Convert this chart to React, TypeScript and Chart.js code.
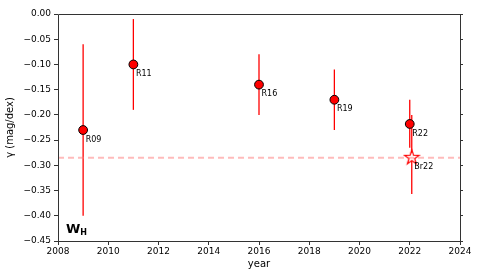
import React, { useEffect, useRef } from "react";
import { Chart, registerables } from "chart.js";
Chart.register(...registerables);

const years = [2009, 2011, 2016, 2019, 2022];
const gamma = [-0.23, -0.1, -0.14, -0.17, -0.218];
const errLow = [-0.4, -0.19, -0.2, -0.23, -0.265];
const errHigh = [-0.06, -0.01, -0.08, -0.11, -0.17];
const names = ["R09", "R11", "R16", "R19", "R22"];

const brYear = [2022.08];
const brGamma = [-0.283];
const brLow = [-0.357];
const brHigh = [-0.2];
const brNames = ["Br22"];

const meanGamma = -0.285;
const xRange = [2008, 2024];
const yRange = [-0.45, 0.0];

const FONT = "'DejaVu Sans', sans-serif";

function makeStar(): HTMLCanvasElement {
  const c = document.createElement("canvas");
  const s = 18;
  c.width = s;
  c.height = s;
  const ctx = c.getContext("2d")!;
  const cx = s / 2, cy = s / 2 + 0.8, R = 7.6, r = 3.0;
  ctx.beginPath();
  for (let i = 0; i < 10; i++) {
    const a = -Math.PI / 2 + (i * Math.PI) / 5;
    const rad = i % 2 === 0 ? R : r;
    const x = cx + rad * Math.cos(a);
    const y = cy + rad * Math.sin(a);
    if (i === 0) ctx.moveTo(x, y);
    else ctx.lineTo(x, y);
  }
  ctx.closePath();
  ctx.fillStyle = "#ffffff";
  ctx.fill();
  ctx.strokeStyle = "#ff0000";
  ctx.lineWidth = 1.2;
  ctx.stroke();
  return c;
}

const fmt = (v: number) => {
  const s = Math.abs(v) < 1e-9 ? "0.00" : v.toFixed(2);
  return s.replace("-", "\u2212");
};

export default function App() {
  const ref = useRef<HTMLCanvasElement>(null);
  useEffect(() => {
    const canvas = ref.current!;
    const star = makeStar();

    const errorBars = {
      id: "errorBars",
      beforeDatasetsDraw(chart: any) {
        const { ctx, scales } = chart;
        const xs = scales.x, ys = scales.y;
        ctx.save();
        ctx.strokeStyle = "#ff0000";
        ctx.lineWidth = 1.3;
        const draw = (x: number, lo: number, hi: number) => {
          const px = xs.getPixelForValue(x);
          ctx.beginPath();
          ctx.moveTo(px, ys.getPixelForValue(lo));
          ctx.lineTo(px, ys.getPixelForValue(hi));
          ctx.stroke();
        };
        years.forEach((y, i) => draw(y, errLow[i], errHigh[i]));
        brYear.forEach((y, i) => draw(y, brLow[i], brHigh[i]));
        ctx.restore();
      },
      afterDatasetsDraw(chart: any) {
        const { ctx, scales, chartArea } = chart;
        const xs = scales.x, ys = scales.y;
        ctx.save();
        ctx.fillStyle = "#000";
        ctx.font = `8px ${FONT}`;
        ctx.textBaseline = "middle";
        ctx.textAlign = "left";
        years.forEach((y, i) => {
          ctx.fillText(names[i], xs.getPixelForValue(y) + 2.5, ys.getPixelForValue(gamma[i]) + 9.5);
        });
        brYear.forEach((y, i) => {
          ctx.fillText(brNames[i], xs.getPixelForValue(y) + 2.5, ys.getPixelForValue(brGamma[i]) + 10);
        });
        // W_H label
        ctx.textBaseline = "alphabetic";
        ctx.font = `bold 13px ${FONT}`;
        const wx = chartArea.left + 8;
        const wy = chartArea.bottom - 8;
        ctx.fillText("W", wx, wy);
        const ww = ctx.measureText("W").width;
        ctx.font = `bold 8px ${FONT}`;
        ctx.fillText("H", wx + ww, wy + 1.5);
        // spines
        ctx.strokeStyle = "#333";
        ctx.lineWidth = 1;
        const l = Math.round(chartArea.left) + 0.5;
        const t = Math.round(chartArea.top) + 0.5;
        const r = Math.round(chartArea.right) + 0.5;
        const b = Math.round(chartArea.bottom) + 0.5;
        ctx.beginPath();
        ctx.rect(l, t, r - l, b - t);
        ctx.stroke();
        ctx.restore();
      },
    };

    const chart = new Chart(canvas, {
      type: "scatter",
      data: {
        datasets: [
          {
            type: "line",
            data: xRange.map((x) => ({ x, y: meanGamma })),
            borderColor: "rgba(255,120,120,0.5)",
            borderWidth: 2,
            borderDash: [6, 4],
            pointRadius: 0,
            fill: false,
          } as any,
          {
            data: years.map((x, i) => ({ x, y: gamma[i] })),
            backgroundColor: "#ff0000",
            borderColor: "#000",
            borderWidth: 1,
            pointRadius: 4.4,
          },
          {
            data: brYear.map((x, i) => ({ x, y: brGamma[i] })),
            pointStyle: star as any,
            pointRadius: 8,
          },
        ],
      },
      options: {
        responsive: false,
        animation: false,
        events: [],
        layout: { padding: { top: 14, left: 0, right: 0, bottom: 0 } },
        plugins: { legend: { display: false }, tooltip: { enabled: false } },
        scales: {
          x: {
            type: "linear",
            min: xRange[0],
            max: xRange[1],
            afterFit: (s: any) => { s.height = 33; },
            ticks: {
              stepSize: 2,
              color: "#000",
              font: { family: FONT, size: 9 },
              padding: 1,
              maxRotation: 0,
              callback: (v: any) => String(v),
            },
            grid: { drawOnChartArea: false, drawTicks: true, tickLength: 4, color: "#333" },
            border: { display: false },
            title: { display: true, text: "year", color: "#000", font: { family: FONT, size: 10 }, padding: { top: 0 } },
          },
          y: {
            type: "linear",
            min: yRange[0],
            max: yRange[1],
            afterFit: (s: any) => { s.width = 58; },
            ticks: {
              stepSize: 0.05,
              color: "#000",
              font: { family: FONT, size: 9 },
              padding: 3,
              callback: (v: any) => fmt(Number(v)),
            },
            grid: { drawOnChartArea: false, drawTicks: true, tickLength: 4, color: "#333" },
            border: { display: false },
            title: { display: true, text: "\u03b3 (mag/dex)", color: "#000", font: { family: FONT, size: 10 }, padding: { bottom: 0 } },
          },
          y2: {
            type: "linear",
            position: "right",
            min: yRange[0],
            max: yRange[1],
            afterFit: (s: any) => { s.width = 20; },
            ticks: { stepSize: 0.05, display: false },
            grid: { drawOnChartArea: false, drawTicks: true, tickLength: 3, color: "#333" },
            border: { display: false },
          },
        },
      },
      plugins: [errorBars],
    } as any);
    return () => chart.destroy();
  }, []);
  return (
    <div style={{ position: "absolute", left: 0, top: 0, width: 480, height: 274, background: "#fff" }}>
      <canvas ref={ref} width={480} height={274} />
    </div>
  );
}
